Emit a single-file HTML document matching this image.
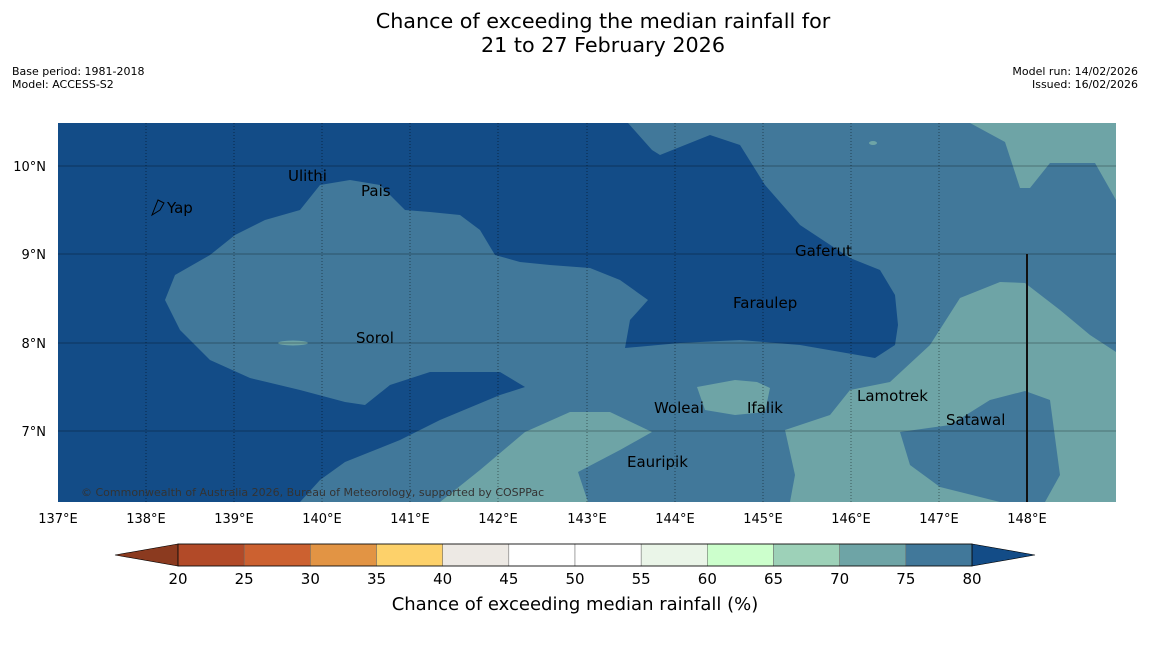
<!DOCTYPE html>
<html><head><meta charset="utf-8"><style>
body{margin:0;background:#fff;width:1150px;height:644px;overflow:hidden;font-family:"Liberation Sans","DejaVu Sans",sans-serif}
svg text{font-family:"DejaVu Sans","Liberation Sans",sans-serif}
</style></head><body>
<svg width="1150" height="644">
<text x="603" y="28" font-size="20.7" text-anchor="middle">Chance of exceeding the median rainfall for</text>
<text x="603" y="52" font-size="20.7" text-anchor="middle">21 to 27 February 2026</text>
<text x="12" y="75" font-size="11">Base period: 1981-2018</text>
<text x="12" y="88" font-size="11">Model: ACCESS-S2</text>
<text x="1138" y="75" font-size="11" text-anchor="end">Model run: 14/02/2026</text>
<text x="1138" y="88" font-size="11" text-anchor="end">Issued: 16/02/2026</text>
<g>
<clipPath id="c"><rect x="58" y="123" width="1058" height="379"/></clipPath>
<g clip-path="url(#c)">
<rect x="58" y="123" width="1058" height="379" fill="#41789a"/>
<path fill="#134c87" d="M58,123 L628,123 652,150 660,155 710,135 740,145 765,185 800,225 850,258 880,270 895,295 898,325 895,345 875,358 800,345 740,340 680,343 625,348 630,320 648,300 620,280 590,268 550,265 520,262 495,255 480,230 460,215 430,212 405,210 380,185 350,180 320,185 300,210 265,220 235,235 210,255 175,275 165,300 180,330 210,360 250,378 300,390 345,402 365,405 390,385 430,372 500,372 525,387 500,395 440,420 400,440 370,452 345,462 320,480 300,502 58,502Z"/>
<g fill="#6ea4a6">
<path d="M440,502 L480,470 525,432 570,412 610,412 652,432 620,450 578,472 588,502Z"/>
<path d="M785,430 L830,415 850,390 890,382 930,345 960,298 1000,282 1025,283 1060,310 1090,335 1116,352 1116,502 1045,502 1060,475 1050,400 1025,391 990,400 950,425 900,432 910,465 940,487 1000,502 790,502 795,475Z"/>
<path d="M970,123 L1116,123 1116,200 1095,163 1050,163 1030,188 1020,188 1005,142Z"/>
<path d="M697,387 L735,380 757,382 770,388 765,412 735,415 705,410Z"/>
<ellipse cx="293" cy="343" rx="15" ry="2.5"/>
<ellipse cx="873" cy="143" rx="4" ry="2"/>
</g>
<g stroke="#000" stroke-opacity="0.45" stroke-width="1" stroke-dasharray="1,2">
<line x1="146" y1="123" x2="146" y2="502"/><line x1="234" y1="123" x2="234" y2="502"/><line x1="322" y1="123" x2="322" y2="502"/><line x1="410" y1="123" x2="410" y2="502"/><line x1="498" y1="123" x2="498" y2="502"/><line x1="587" y1="123" x2="587" y2="502"/><line x1="675" y1="123" x2="675" y2="502"/><line x1="763" y1="123" x2="763" y2="502"/><line x1="851" y1="123" x2="851" y2="502"/><line x1="939" y1="123" x2="939" y2="502"/>
</g>
<g stroke="#000" stroke-opacity="0.3">
<line x1="58" y1="166" x2="1116" y2="166"/><line x1="58" y1="254" x2="1116" y2="254"/><line x1="58" y1="343" x2="1116" y2="343"/><line x1="58" y1="431" x2="1116" y2="431"/>
</g>
<line x1="1027" y1="254" x2="1027" y2="502" stroke="#111" stroke-width="2"/>
<path d="M152,215 L158,200 164,203 160,210Z" fill="none" stroke="#000"/>
</g>
<g font-size="15" fill="#000">
<text x="288" y="181">Ulithi</text><text x="361" y="196">Pais</text><text x="167" y="213">Yap</text><text x="795" y="256">Gaferut</text><text x="733" y="308">Faraulep</text><text x="356" y="343">Sorol</text><text x="857" y="401">Lamotrek</text><text x="654" y="413">Woleai</text><text x="747" y="413">Ifalik</text><text x="946" y="425">Satawal</text><text x="627" y="467">Eauripik</text>
</g>
<text x="81" y="496" font-size="11" fill="#333">© Commonwealth of Australia 2026, Bureau of Meteorology, supported by COSPPac</text>
</g>
<g font-size="13">
<text x="46" y="171" text-anchor="end">10°N</text><text x="46" y="259" text-anchor="end">9°N</text><text x="46" y="348" text-anchor="end">8°N</text><text x="46" y="436" text-anchor="end">7°N</text>
</g>
<g font-size="13" text-anchor="middle">
<text x="58" y="523">137°E</text><text x="146" y="523">138°E</text><text x="234" y="523">139°E</text><text x="322" y="523">140°E</text><text x="410" y="523">141°E</text><text x="498" y="523">142°E</text><text x="587" y="523">143°E</text><text x="675" y="523">144°E</text><text x="763" y="523">145°E</text><text x="851" y="523">146°E</text><text x="939" y="523">147°E</text><text x="1027" y="523">148°E</text>
</g>
<g id="cbar"></g>
<text x="575" y="610" font-size="18" text-anchor="middle">Chance of exceeding median rainfall (%)</text>
</svg>
<script>
const cbTicks=[20,25,30,35,40,45,50,55,60,65,70,75,80];
const cbColors=["#b24a28","#cc6130","#e29444","#fdd16a","#ede9e4","#ffffff","#ffffff","#eaf5e8","#ccffcc","#9dd1b8","#6ea4a6","#41789a"];
const lowColor="#8b3a1f", highColor="#134c87";
const g=document.getElementById('cbar');
const NS="http://www.w3.org/2000/svg";
const x0=178,x1=972,y0=544,y1=566;
const sx=v=>x0+(v-20)/60*(x1-x0);
function mk(t,a){const e=document.createElementNS(NS,t);for(const k in a)e.setAttribute(k,a[k]);g.appendChild(e);return e;}
let tri=mk('polygon',{points:`${x0},${y0} ${x0},${y1} 115,555`,fill:lowColor,stroke:'#000','stroke-width':0.6});


tri=mk('polygon',{points:`${x1},${y0} ${x1},${y1} 1035,555`,fill:highColor,stroke:'#000','stroke-width':0.6});


for(let i=0;i<cbColors.length;i++){
 const r=mk('rect',{x:sx(cbTicks[i]),y:y0,width:sx(cbTicks[i+1])-sx(cbTicks[i]),height:y1-y0,fill:cbColors[i],stroke:'#666','stroke-width':0.5});
 
 
}
mk('rect',{x:x0,y:y0,width:x1-x0,height:y1-y0,fill:'none',stroke:'#000','stroke-width':0.8});
cbTicks.forEach(v=>{
 const t=mk('text',{x:sx(v),y:584,'font-size':15,'text-anchor':'middle'});
 t.textContent=v;
 
 
});
</script>
</body></html>
